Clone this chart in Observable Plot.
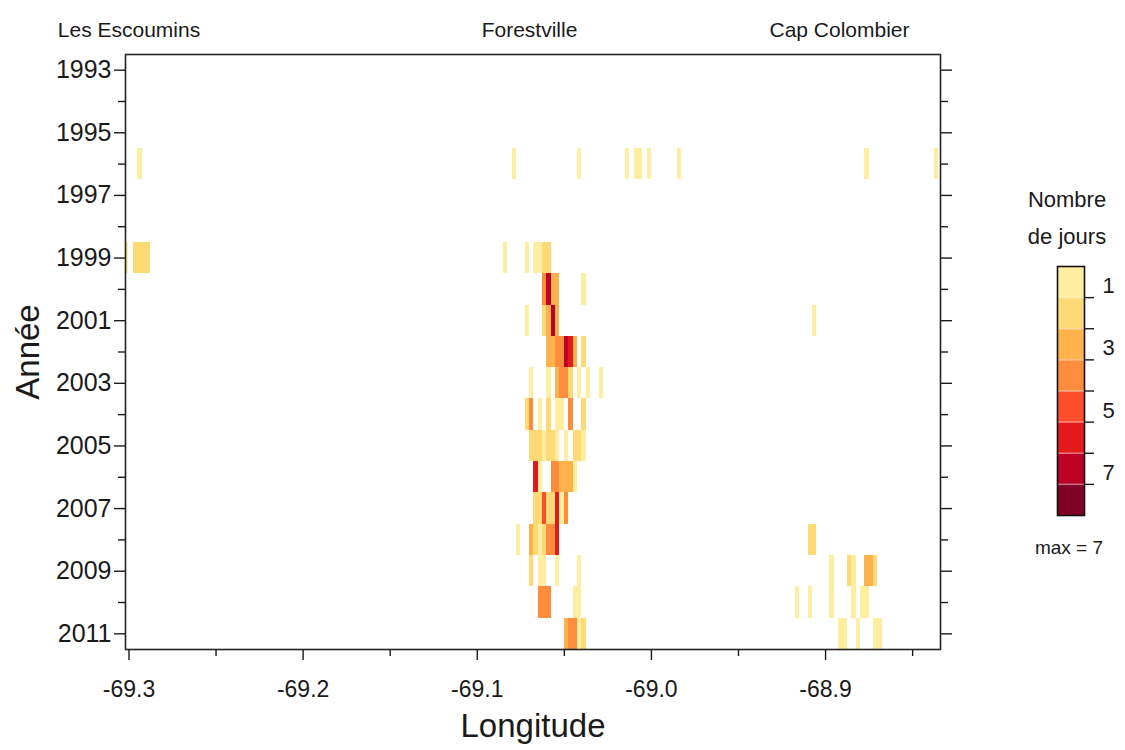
<!DOCTYPE html>
<html><head><meta charset="utf-8">
<script src="https://cdn.jsdelivr.net/npm/d3@7"></script>
<script src="https://cdn.jsdelivr.net/npm/@observablehq/plot@0.6"></script>
<style>
html,body{margin:0;padding:0;background:#fff;overflow:hidden;}
#wrap{position:relative;width:1125px;height:750px;}
#main{position:absolute;left:0;top:0;}
#legend{position:absolute;left:1000px;top:160px;}
</style></head>
<body><div id="wrap"><div id="main"></div><div id="legend"></div></div>
<script>
// ---- data ----
const majorYears = [1993,1995,1997,1999,2001,2003,2005,2007,2009,2011];
const minorYears = [1994,1996,1998,2000,2002,2004,2006,2008,2010];
const majorLon = [-69.3,-69.2,-69.1,-69.0,-68.9];
const minorLon = [-69.25,-69.15,-69.05,-68.95,-68.85];
const towns = ["Les Escoumins","Forestville","Cap Colombier"];
const townLon = [-69.3,-69.07,-68.892];
const cellWidth = 0.0025;

// [longitude (west edge of cell), number of days]
const days1996 = [[-69.295,1],[-69.08,1],[-69.0425,1],[-69.015,1],[-69.01,1],[-69.0075,1],[-69.0025,1],[-68.985,1],[-68.8775,1],[-68.8375,1]];
const days1999 = [[-69.3025,1],[-69.2975,2],[-69.295,2],[-69.2925,2],[-69.29,2],[-69.085,1],[-69.0725,1],[-69.0675,1],[-69.065,1],[-69.0625,2],[-69.06,2]];
const days2000 = [[-69.0625,4],[-69.06,7],[-69.0575,3],[-69.055,3],[-69.04,1]];
const days2001 = [[-69.0725,1],[-69.0625,2],[-69.06,3],[-69.0575,7],[-69.055,3],[-68.9075,1]];
const days2002 = [[-69.06,3],[-69.0575,3],[-69.055,4],[-69.0525,4],[-69.05,7],[-69.0475,6],[-69.045,3],[-69.04,2]];
const days2003 = [[-69.07,1],[-69.06,1],[-69.055,3],[-69.0525,4],[-69.05,4],[-69.0475,2],[-69.0425,1],[-69.0375,1],[-69.03,1]];
const days2004 = [[-69.0725,2],[-69.07,4],[-69.065,1],[-69.06,2],[-69.055,1],[-69.0525,1],[-69.0475,4],[-69.04,2]];
const days2005 = [[-69.07,2],[-69.0675,2],[-69.065,2],[-69.0625,1],[-69.06,2],[-69.0575,2],[-69.055,1],[-69.05,1],[-69.045,2],[-69.0425,2],[-69.04,1]];
const days2006 = [[-69.0675,6],[-69.065,1],[-69.0575,4],[-69.055,4],[-69.0525,3],[-69.05,3],[-69.0475,3],[-69.045,1]];
const days2007 = [[-69.0675,2],[-69.065,2],[-69.0625,5],[-69.06,2],[-69.0575,2],[-69.055,6],[-69.0525,1],[-69.05,4]];
const days2008 = [[-69.0775,1],[-69.07,3],[-69.0675,2],[-69.065,1],[-69.0625,2],[-69.06,4],[-69.0575,4],[-69.055,6],[-68.91,2],[-68.9075,2]];
const days2009 = [[-69.07,2],[-69.065,1],[-69.0625,1],[-69.055,1],[-69.0425,1],[-68.8975,1],[-68.8875,2],[-68.885,1],[-68.8775,3],[-68.875,3],[-68.8725,2]];
const days2010 = [[-69.065,4],[-69.0625,4],[-69.06,4],[-69.045,1],[-69.0425,1],[-68.9175,1],[-68.91,1],[-68.8975,1],[-68.885,1],[-68.88,1],[-68.8775,1]];
const days2011 = [[-69.05,3],[-69.0475,4],[-69.045,4],[-69.0425,1],[-69.04,2],[-68.8925,1],[-68.89,1],[-68.8825,1],[-68.8725,1],[-68.87,1]];

const bins = [1,2,3,4,5,6,7,8];
const palette = ["#ffeda0","#fed976","#feb24c","#fd8d3c","#fc4e2a","#e31a1c","#bd0026","#800026"];
const legendLabels = [1,3,5,7];
const legendTitle1 = "Nombre";
const legendTitle2 = "de jours";
const maxText = "max = 7";

// ---- build table ----
const rows = [[1996,days1996],[1999,days1999],[2000,days2000],[2001,days2001],[2002,days2002],[2003,days2003],[2004,days2004],[2005,days2005],[2006,days2006],[2007,days2007],[2008,days2008],[2009,days2009],[2010,days2010],[2011,days2011]];
const cells = rows.flatMap(([year, arr]) => arr.map(([lon, days]) => ({year, lon, days})));

const FONT = "'Liberation Sans', Arial, Helvetica, sans-serif";
const INK = "#1a1a1a";

const main = Plot.plot({
  width: 1125, height: 750,
  marginLeft: 125, marginRight: 185, marginTop: 54, marginBottom: 101,
  style: {fontFamily: FONT, fontSize: "21px", color: INK, background: "#fff"},
  x: {domain: [-69.302, -68.834], axis: null},
  y: {domain: [1992.5, 2011.5], reverse: true, axis: null},
  color: {type: "ordinal", domain: bins, range: palette},
  marks: [
    Plot.rect(cells, {x1: "lon", x2: d => d.lon + cellWidth, y1: d => d.year - 0.5, y2: d => d.year + 0.5, fill: "days", clip: true, shapeRendering: "crispEdges"}),
    Plot.axisY(majorYears, {anchor: "left", tickSize: 11, tickPadding: 3, tickFormat: d => String(d), label: null, stroke: INK, strokeWidth: 1.4, fill: INK, fontSize: 25}),
    Plot.axisY(minorYears, {anchor: "left", tickSize: 7, tickFormat: () => "", label: null, stroke: INK, strokeWidth: 1.4}),
    Plot.axisY(majorYears, {anchor: "right", tickSize: 11, tickFormat: () => "", label: null, stroke: INK, strokeWidth: 1.4}),
    Plot.axisY(minorYears, {anchor: "right", tickSize: 7, tickFormat: () => "", label: null, stroke: INK, strokeWidth: 1.4}),
    Plot.axisX(majorLon, {anchor: "bottom", tickSize: 11, tickPadding: 20, tickFormat: d => d.toFixed(1), label: null, stroke: INK, strokeWidth: 1.4, fill: INK, fontSize: 23}),
    Plot.axisX(minorLon, {anchor: "bottom", tickSize: 7, tickFormat: () => "", label: null, stroke: INK, strokeWidth: 1.4}),
    Plot.frame({stroke: "#222", strokeWidth: 1.6}),
    Plot.text(towns, {x: (d, i) => townLon[i], frameAnchor: "top", dy: -32, fontSize: 21, fill: INK}),
    Plot.text(["Année"], {frameAnchor: "left", dx: -97, rotate: -90, textAnchor: "middle", lineAnchor: "middle", fontSize: 33, fill: INK}),
    Plot.text(["Longitude"], {frameAnchor: "bottom", dy: 87, lineAnchor: "bottom", fontSize: 33, fill: INK})
  ]
});
document.getElementById("main").appendChild(main);

const legend = Plot.plot({
  width: 125, height: 420,
  marginLeft: 57, marginRight: 41, marginTop: 106, marginBottom: 65,
  style: {fontFamily: FONT, fontSize: "22px", color: INK, background: "transparent", overflow: "visible"},
  x: {domain: [0, 1], axis: null},
  y: {domain: [0.5, 8.5], reverse: true, axis: null},
  color: {type: "ordinal", domain: bins, range: palette},
  marks: [
    Plot.rect(bins, {x1: 0, x2: 1, y1: d => d - 0.5, y2: d => d + 0.5, fill: d => d, shapeRendering: "crispEdges"}),
    Plot.ruleY(bins.slice(0, -1).map(b => b + 0.5), {stroke: "#fff", strokeOpacity: 0.45, strokeWidth: 1.5}),
    Plot.frame({stroke: "#111", strokeWidth: 1.6}),
    Plot.axisY(bins.slice(0, -1).map(b => b + 0.5), {anchor: "right", tickSize: 9, tickFormat: () => "", label: null, stroke: INK, strokeWidth: 1.4}),
    Plot.axisY(legendLabels, {anchor: "right", tickSize: 0, tickPadding: 18, tickFormat: d => String(d), label: null, fill: INK, fontSize: 22, dy: 4}),
    Plot.text([legendTitle1], {frameAnchor: "top", dx: -4, dy: -75, fontSize: 22, fill: INK}),
    Plot.text([legendTitle2], {frameAnchor: "top", dx: -4, dy: -38, fontSize: 22, fill: INK}),
    Plot.text([maxText], {frameAnchor: "bottom", dx: -2, dy: 38, fontSize: 19, fill: INK})
  ]
});
document.getElementById("legend").appendChild(legend);
</script>
</body></html>
